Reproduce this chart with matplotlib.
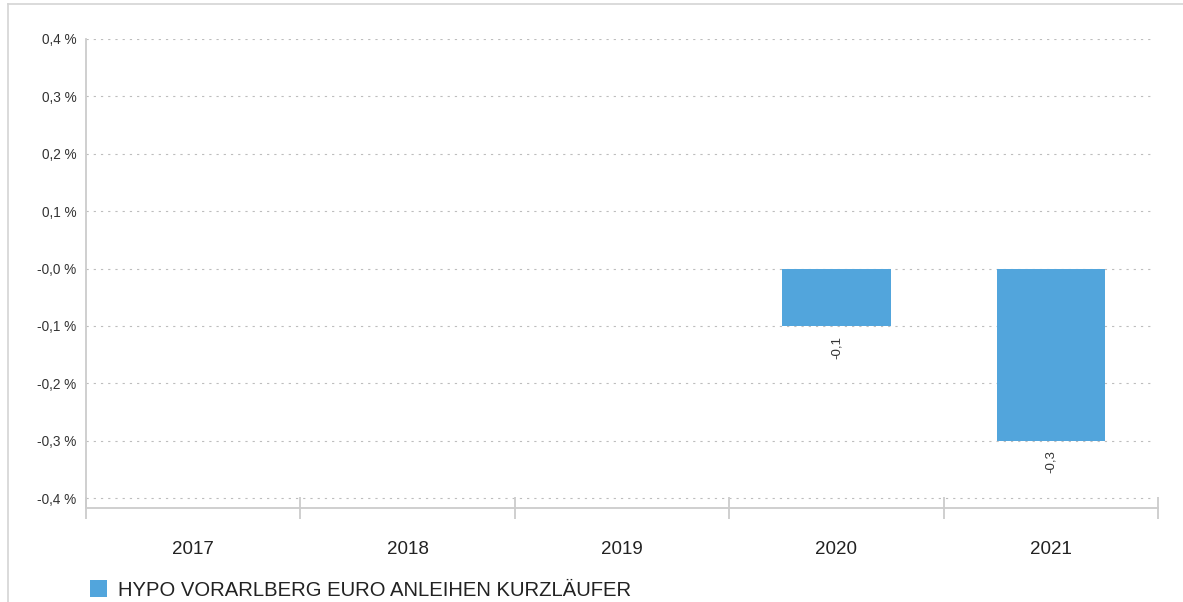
import matplotlib
matplotlib.use('Agg')
from matplotlib import pyplot as plt
from matplotlib.patches import Patch
from matplotlib.lines import Line2D

plt.rcParams['font.family'] = ['Liberation Sans', 'DejaVu Sans']

years = ['2017', '2018', '2019', '2020', '2021']
values = [None, None, None, -0.1, -0.3]
value_labels = ['', '', '', '-0,1', '-0,3']
y_ticks = [0.4, 0.3, 0.2, 0.1, 0.0, -0.1, -0.2, -0.3, -0.4]
y_tick_labels = ['0,4 %', '0,3 %', '0,2 %', '0,1 %', '-0,0 %', '-0,1 %', '-0,2 %', '-0,3 %', '-0,4 %']
series_name = 'HYPO VORARLBERG EURO ANLEIHEN KURZLÄUFER'

W, H = 1183, 602
fig = plt.figure(figsize=(W / 100, H / 100), dpi=100)
ax = fig.add_axes([86 / W, 1 - 508 / H, (1158 - 86) / W, (508 - 39) / H])

bar_color = '#52a5dc'
grid_color = '#bdbdbd'
axis_color = '#cccccc'

x = list(range(len(years)))
for i, v in enumerate(values):
    if v is None:
        continue
    ax.bar(i, v, width=0.505, color=bar_color, zorder=3)
    ax.annotate(value_labels[i], (i, v), xytext=(0, -7), textcoords='offset points',
                rotation=90, ha='center', va='top', fontsize=9.5, color='#333333')

ax.set_xlim(-0.5, len(years) - 0.5)
ax.set_ylim(-0.4174, 0.4)

ax.set_yticks(y_ticks)
ax.set_yticklabels(y_tick_labels)
ax.tick_params(axis='y', length=0, pad=7, labelsize=9.8, labelcolor='#333333')

ax.set_xticks([i - 0.5 for i in range(len(years) + 1)])
ax.set_xticklabels([])
ax.tick_params(axis='x', which='major', direction='inout', length=16, width=1.3, color=axis_color)
ax.set_xticks(x, minor=True)
ax.set_xticklabels(years, minor=True)
ax.tick_params(axis='x', which='minor', length=0, pad=24, labelsize=13.5, labelcolor='#222222')

for yt in y_ticks:
    ax.axhline(yt, xmax=0.995, color=grid_color, lw=0.8, linestyle=(0, (2, 4.5)), zorder=1)

for s in ['top', 'right']:
    ax.spines[s].set_visible(False)
for s in ['left', 'bottom']:
    ax.spines[s].set_color(axis_color)
    ax.spines[s].set_linewidth(1.3)

# outer frame lines
fig.add_artist(Line2D([8 / W, 8 / W], [0, 1 - 4 / H], color='#d4d4d4', lw=1.2))
fig.add_artist(Line2D([8 / W, 1], [1 - 4 / H, 1 - 4 / H], color='#d4d4d4', lw=1.2))

fig.legend(handles=[Patch(facecolor=bar_color, label=series_name)],
           loc='center left', bbox_to_anchor=(72 / W, 1 - 590 / H), frameon=False,
           fontsize=14.6, handlelength=0.85, handleheight=0.85, handletextpad=0.5,
           labelcolor='#222222')

fig.savefig('out.png', dpi=100)
